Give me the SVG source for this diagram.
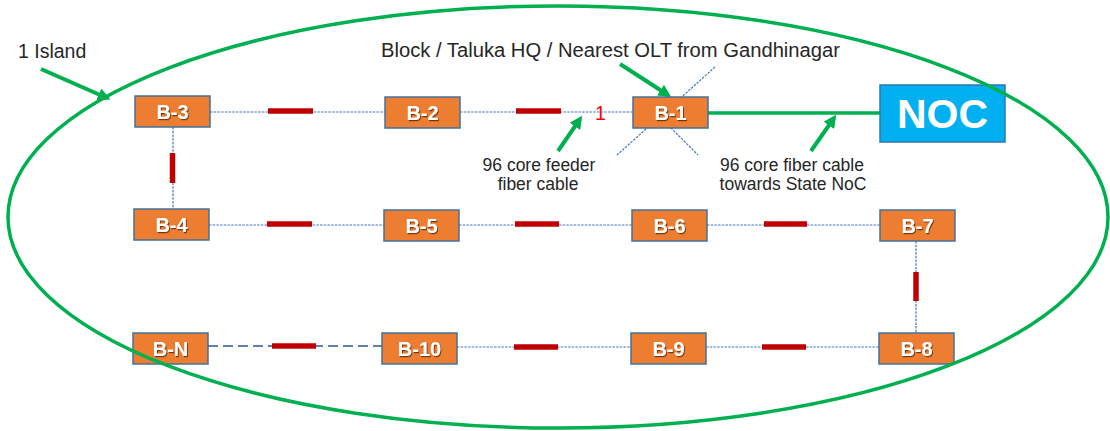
<svg xmlns="http://www.w3.org/2000/svg" width="1110" height="431" viewBox="0 0 1110 431">
<style>
.node rect{fill:#ED7D31;stroke:#41719C;stroke-width:1.5}
.node text{font-family:"Liberation Sans",Arial,sans-serif;font-weight:bold;font-size:20px;fill:#fff;text-anchor:middle;filter:url(#sh)}
.noc rect{fill:#00B0F0;stroke:#2E75B6;stroke-width:1.5}
.noc text{font-family:"Liberation Sans",Arial,sans-serif;font-weight:bold;font-size:41px;fill:#fff;text-anchor:middle}
.dash{stroke:#4472C4;stroke-width:1.2;stroke-dasharray:2.5 1.2;fill:none}
.ldash{stroke:#2F5597;stroke-width:1.5;stroke-dasharray:10 5;fill:none}
.red{stroke:#C00000;stroke-width:5.5;fill:none}
.garrow{stroke:#00B050;stroke-width:4;fill:none;marker-end:url(#ah)}
.lbl{font-family:"Liberation Sans",Arial,sans-serif;fill:#262626}
</style>
<defs>
<filter id="sh" x="-20%" y="-20%" width="140%" height="140%">
<feDropShadow dx="1" dy="1.2" stdDeviation="0.7" flood-color="#000" flood-opacity="0.55"/>
</filter>
<marker id="ah" viewBox="0 0 10 10" refX="7" refY="5" markerWidth="3.2" markerHeight="3.2" orient="auto" markerUnits="strokeWidth">
<path d="M0,0 L10,5 L0,10 z" fill="#00B050"/>
</marker>
</defs>

<g id="connectors">
<line class="dash" x1="715" y1="67" x2="617" y2="155"/>
<line class="dash" x1="655" y1="112" x2="698" y2="155"/>
<line class="dash" x1="210" y1="112" x2="385" y2="112"/>
<line class="red" x1="268" y1="111" x2="313" y2="111"/>
<line class="dash" x1="460" y1="112" x2="633" y2="112"/>
<line class="red" x1="516" y1="111" x2="561" y2="111"/>
<line x1="708" y1="113" x2="880" y2="113" stroke="#00B050" stroke-width="3.5"/>
<line class="dash" x1="173" y1="127" x2="173" y2="209"/>
<line class="red" x1="172.5" y1="153" x2="172.5" y2="183"/>
<line class="dash" x1="916" y1="241" x2="916" y2="333"/>
<line class="red" x1="916" y1="272" x2="916" y2="301"/>
<line class="dash" x1="209" y1="225" x2="384" y2="225"/>
<line class="red" x1="267" y1="224" x2="312" y2="224"/>
<line class="dash" x1="459" y1="225" x2="632" y2="225"/>
<line class="red" x1="515" y1="224" x2="559" y2="224"/>
<line class="dash" x1="707" y1="225" x2="880" y2="225"/>
<line class="red" x1="764" y1="224" x2="807" y2="224"/>
<line class="ldash" x1="208" y1="346" x2="382" y2="346"/>
<line class="red" x1="272" y1="346" x2="316" y2="346"/>
<line class="dash" x1="457" y1="347" x2="631" y2="347"/>
<line class="red" x1="514" y1="347" x2="558" y2="347"/>
<line class="dash" x1="706" y1="347" x2="879" y2="347"/>
<line class="red" x1="762" y1="347" x2="806" y2="347"/>
<line class="garrow" x1="41" y1="69" x2="107" y2="98"/>
<line class="garrow" x1="620" y1="64" x2="668" y2="95"/>
<line class="garrow" x1="558" y1="151" x2="580" y2="119"/>
<line class="garrow" x1="811" y1="151" x2="834" y2="118"/>
</g>

<g id="B-3" class="node"><rect x="135" y="96" width="75" height="31"/><text x="172.5" y="118.5">B-3</text></g>
<g id="B-2" class="node"><rect x="385" y="97" width="75" height="31"/><text x="422.5" y="119.5">B-2</text></g>
<g id="B-1" class="node"><rect x="633" y="97" width="75" height="31"/><text x="670.5" y="119.5">B-1</text></g>
<g id="B-4" class="node"><rect x="134" y="209" width="75" height="31"/><text x="171.5" y="231.5">B-4</text></g>
<g id="B-5" class="node"><rect x="384" y="210" width="75" height="31"/><text x="421.5" y="232.5">B-5</text></g>
<g id="B-6" class="node"><rect x="632" y="210" width="75" height="31"/><text x="669.5" y="232.5">B-6</text></g>
<g id="B-7" class="node"><rect x="880" y="210" width="75" height="31"/><text x="917.5" y="232.5">B-7</text></g>
<g id="B-N" class="node"><rect x="133" y="333" width="75" height="31"/><text x="170.5" y="355.5">B-N</text></g>
<g id="B-10" class="node"><rect x="382" y="333" width="75" height="31"/><text x="419.5" y="355.5">B-10</text></g>
<g id="B-9" class="node"><rect x="631" y="333" width="75" height="31"/><text x="668.5" y="355.5">B-9</text></g>
<g id="B-8" class="node"><rect x="879" y="333" width="75" height="31"/><text x="916.5" y="355.5">B-8</text></g>
<g id="NOC" class="noc"><rect x="880" y="85" width="125" height="57"/><text x="942.5" y="128">NOC</text></g>

<g id="labels">
<text class="lbl" x="18" y="58" font-size="19.5">1 Island</text>
<text class="lbl" x="381" y="57" font-size="19.5" textLength="459" lengthAdjust="spacingAndGlyphs">Block / Taluka HQ / Nearest OLT from Gandhinagar</text>
<text class="lbl" x="539" y="171" font-size="17.5" text-anchor="middle">96 core feeder</text>
<text class="lbl" x="538" y="190" font-size="17.5" text-anchor="middle">fiber cable</text>
<text class="lbl" x="792" y="171" font-size="17.5" text-anchor="middle">96 core fiber cable</text>
<text class="lbl" x="793" y="190" font-size="17.5" text-anchor="middle">towards State NoC</text>
<text x="595" y="120" font-family="Liberation Sans,Arial,sans-serif" font-size="19.5" fill="#FF0000">1</text>
</g>

<ellipse id="island" cx="558" cy="217" rx="550" ry="211" fill="none" stroke="#00B050" stroke-width="3.5"/>
</svg>
